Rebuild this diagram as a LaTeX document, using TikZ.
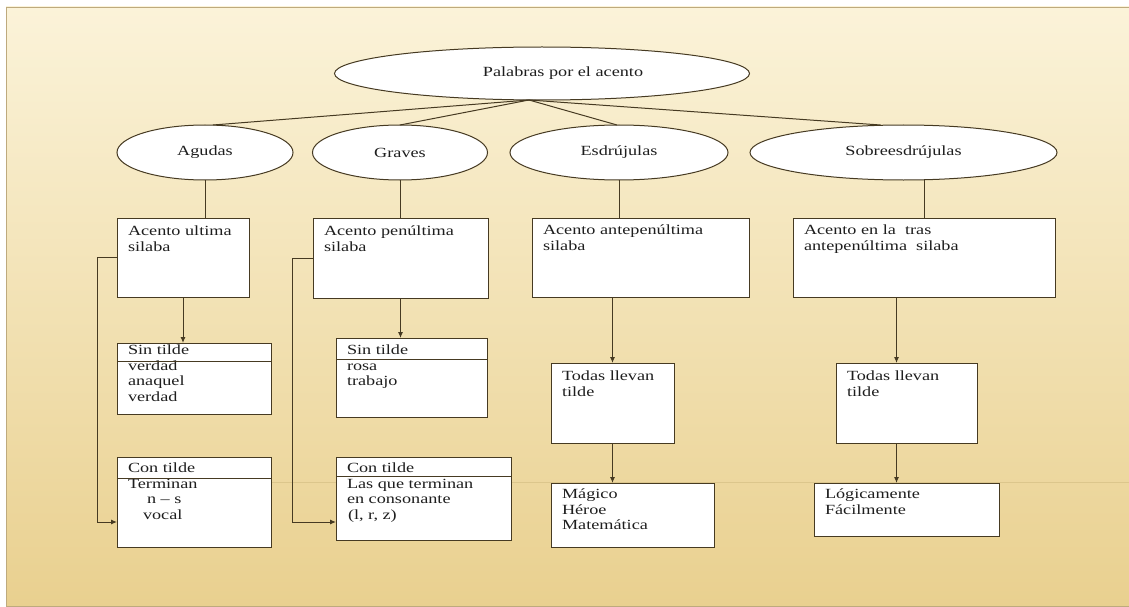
\documentclass[tikz,border=0pt]{standalone}
\usepackage{fontspec}
\setmainfont{Liberation Serif}[FakeStretch=1.3]
\usetikzlibrary{shapes.geometric,arrows.meta,calc}

\definecolor{ink}{RGB}{70,58,34}
\definecolor{txt}{RGB}{30,30,30}
\definecolor{bgtop}{RGB}{251,243,217}
\definecolor{bgmid}{RGB}{247,231,187}
\definecolor{bgbot}{RGB}{233,208,143}
\definecolor{frame}{RGB}{190,170,125}
\definecolor{seam}{RGB}{220,198,140}

% fixed-size text cell: width, height, space above first line, lines
\newcommand{\cellbox}[4]{\parbox[b][#2][t]{#1}{\vspace*{#3}\hspace*{11pt}\begin{tabular}[t]{@{}l@{}}#4\end{tabular}\par\vfill}}

\tikzset{
  oval/.style={ellipse, draw=ink, fill=white, line width=1pt, inner sep=0pt, outer sep=0pt, text=txt},
  cell/.style={rectangle, draw=ink, fill=white, line width=1pt, inner sep=0pt, outer sep=0pt, anchor=north west, text=txt},
  link/.style={draw=ink, line width=1pt},
  arr/.style={link, -{Latex[length=6pt,width=5pt]}}
}

\begin{document}
\begin{tikzpicture}[x=1pt, y=-1pt, font=\fontsize{14}{15.5}\selectfont]
\useasboundingbox (0,0) rectangle (1129,607);

% slide background
\fill[white] (0,0) rectangle (1129,607);
\shade[top color=bgtop, middle color=bgmid, bottom color=bgbot] (6,7) rectangle (1129,607);
\draw[seam, line width=0.6pt] (271,482) -- (1129,482);
\draw[frame, line width=0.8pt] (1130,7) -- (6,7) -- (6,606) -- (1130,606);

% ovals
\node[oval, minimum width=415pt, minimum height=53pt] (root) at (542,73.5) {\hspace*{42pt}Palabras por el acento};
\node[oval, minimum width=176pt, minimum height=55pt] (ag) at (205,152.5) {Agudas};
\node[oval, minimum width=175pt, minimum height=55pt] (gr) at (400,152.5) {Graves};
\node[oval, minimum width=218pt, minimum height=55pt] (es) at (619,152.5) {Esdrújulas};
\node[oval, minimum width=307pt, minimum height=55pt] (so) at (903.5,152.5) {Sobreesdrújulas};

\coordinate (hub) at ($(root.south)+(-13,0)$);
\draw[link] (hub) -- ([xshift=8pt]ag.north);
\draw[link] (hub) -- (gr.north);
\draw[link] (hub) -- ([xshift=-2pt]es.north);
\draw[link] (hub) -- ([xshift=-23pt]so.north);

% first row of boxes
\node[cell] (agA) at (117,218) {\cellbox{132pt}{79pt}{7pt}{Acento ultima\\silaba}};
\node[cell] (grA) at (313,218) {\cellbox{175pt}{80pt}{7pt}{Acento penúltima\\silaba}};
\node[cell] (esA) at (532,218) {\cellbox{217pt}{79pt}{6pt}{Acento antepenúltima\\silaba}};
\node[cell] (soA) at (793,218) {\cellbox{262pt}{79pt}{6pt}{Acento en la\ \ tras\\antepenúltima\ \ silaba}};

\draw[link] (ag.south) -- (ag.south |- agA.north);
\draw[link] (gr.south) -- (gr.south |- grA.north);
\draw[link] (es.south) -- (es.south |- esA.north);
\draw[link] (so.south -| soA.north) -- (soA.north);

% Agudas / Graves detail boxes
\node[cell] (agS) at (117,343) {\cellbox{154pt}{71pt}{1pt}{Sin tilde\\verdad\\anaquel\\verdad}};
\node[cell] (grS) at (336,338) {\cellbox{151pt}{79pt}{6pt}{Sin tilde\\rosa\\trabajo}};
\node[cell] (agC) at (117,457) {\cellbox{154pt}{90pt}{5pt}{Con tilde\\Terminan\\\hspace*{19pt}n -- s\\\hspace*{15pt}vocal}};
\node[cell] (grC) at (336,457) {\cellbox{175pt}{83pt}{5pt}{Con tilde\\Las que terminan\\en consonante\\\hspace*{1pt}(l, r, z)}};

\draw[link] ($(agS.north west)+(0,18)$) -- ($(agS.north east)+(0,18)$);
\draw[link] ($(grS.north west)+(0,21)$) -- ($(grS.north east)+(0,21)$);
\draw[link] ($(agC.north west)+(0,21)$) -- ($(agC.north east)+(0,21)$);
\draw[link] ($(grC.north west)+(0,19)$) -- ($(grC.north east)+(0,19)$);

\draw[arr] (agA.south) -- (agA.south |- agS.north);
\draw[arr] (grA.south) -- (grA.south |- grS.north);

\coordinate (agIn) at ($(agC.south west)+(0,-25)$);
\draw[arr] (agA.west) -- ++(-20,0) |- (agIn);
\coordinate (grIn) at ($(grC.south west)+(0,-18)$);
\draw[arr] (grA.west) -- ++(-21,0) |- (grIn);

% Esdrújulas / Sobreesdrújulas detail boxes
\node[cell] (esT) at (551,363) {\cellbox{123pt}{80pt}{7pt}{Todas llevan\\tilde}};
\node[cell] (esM) at (551,483) {\cellbox{163pt}{64pt}{5pt}{Mágico\\Héroe\\Matemática}};
\node[cell] (soT) at (836,363) {\cellbox{141pt}{80pt}{7pt}{Todas llevan\\tilde}};
\node[cell] (soL) at (814,483) {\cellbox{185pt}{53pt}{5pt}{Lógicamente\\Fácilmente}};

\draw[arr] (esT.north |- esA.south) -- (esT.north);
\draw[arr] (esT.south) -- (esT.south |- esM.north);
\coordinate (soX) at ([xshift=-10pt]soT.north);
\draw[arr] (soX |- soA.south) -- (soX);
\draw[arr] (soX |- soT.south) -- (soX |- soL.north);
\end{tikzpicture}
\end{document}
